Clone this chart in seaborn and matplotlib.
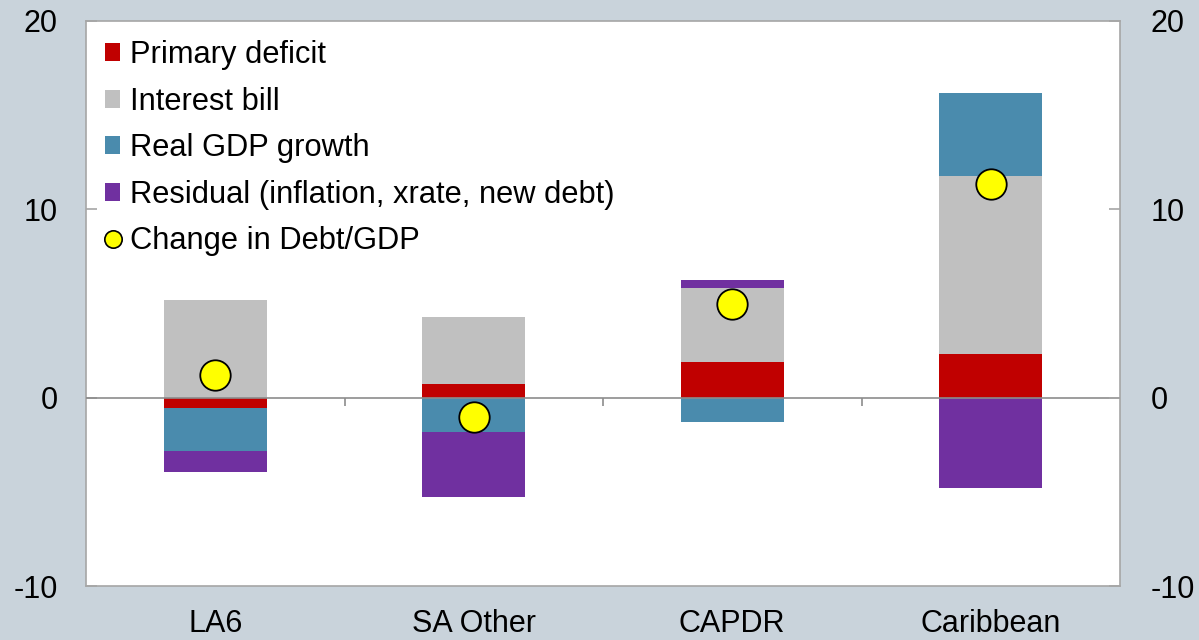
import numpy as np
import pandas as pd
import matplotlib
matplotlib.use("Agg")
import matplotlib.pyplot as plt
import seaborn as sns
from matplotlib.patches import Patch
from matplotlib.lines import Line2D

# Debt dynamics decomposition, % of GDP
regions = ["LA6", "SA Other", "CAPDR", "Caribbean"]
primary_deficit = [-0.55, 0.7, 1.9, 2.3]
interest_bill = [5.2, 3.6, 3.9, 9.45]
real_gdp_growth = [-2.3, -1.8, -1.3, 4.45]
residual = [-1.1, -3.45, 0.45, -4.8]
change_debt_gdp = [1.2, -1.0, 5.0, 11.35]
y_ticks = [-10, 0, 10, 20]

series_names = ["Primary deficit", "Interest bill", "Real GDP growth",
                "Residual (inflation, xrate, new debt)"]
series_values = [primary_deficit, interest_bill, real_gdp_growth, residual]
series_colors = ["#C00000", "#C0C0C0", "#4A8BAD", "#7030A0"]

bg = "#C9D3DB"
frame_col = "#A6A6A6"

sns.set_theme(style="white")
plt.rcParams["font.family"] = ["Liberation Sans", "DejaVu Sans"]
plt.rcParams["axes.unicode_minus"] = False
plt.rcParams["text.color"] = "black"
plt.rcParams["xtick.labelcolor"] = "black"
plt.rcParams["ytick.labelcolor"] = "black"

fig = plt.figure(figsize=(11.99, 6.40), dpi=100, facecolor=bg)
ax = fig.add_axes([86 / 1199, 54 / 640, 1034 / 1199, 565 / 640])
ax.set_facecolor("white")

x = np.arange(len(regions))
pos_base = np.zeros(len(regions))
neg_base = np.zeros(len(regions))
for name, vals, col in zip(series_names, series_values, series_colors):
    v = np.asarray(vals, dtype=float)
    bottom = np.where(v >= 0, pos_base, neg_base)
    ax.bar(x, v, width=0.4, bottom=bottom, color=col, edgecolor="none",
           zorder=2)
    pos_base = pos_base + np.where(v >= 0, v, 0)
    neg_base = neg_base + np.where(v < 0, v, 0)

# zero line with category separators below it
ax.axhline(0, color="#8C8C8C", lw=1.2, zorder=3)
seps = np.arange(1, len(regions)) - 0.5
ax.vlines(seps, -0.42, 0, color="#8C8C8C", lw=1.2, zorder=3)

pts = pd.DataFrame({"region": x, "change": change_debt_gdp})
sns.scatterplot(data=pts, x="region", y="change", ax=ax, color="#FFFF00",
                edgecolor="black", linewidth=1.3, s=480, zorder=4,
                legend=False)

ax.set_xlim(-0.5, len(regions) - 0.5)
ax.set_ylim(-10, 20)
ax.set_xticks(x)
ax.set_xticklabels(regions, fontsize=22)
ax.tick_params(axis="x", length=0, pad=16.5, labelcolor="black")
ax.set_yticks(y_ticks)
ax.tick_params(axis="y", direction="in", length=8, width=1.2,
               color=frame_col, labelsize=22, pad=20.5, labelcolor="black")
ax.set_xlabel("")
ax.set_ylabel("")
for sp in ax.spines.values():
    sp.set_visible(True)
    sp.set_color(frame_col)
    sp.set_linewidth(1.2)

ax2 = ax.twinx()
ax2.set_ylim(ax.get_ylim())
ax2.set_yticks(y_ticks)
ax2.tick_params(axis="y", direction="in", length=8, width=1.2,
                color=frame_col, labelsize=22, pad=21.8, labelcolor="black")
for sp in ax2.spines.values():
    sp.set_visible(False)

handles = [Patch(facecolor=c, edgecolor="none", label=n)
           for n, c in zip(series_names, series_colors)]
handles.append(Line2D([], [], marker="o", linestyle="none",
                      markerfacecolor="#FFFF00", markeredgecolor="black",
                      markeredgewidth=1.2, markersize=12.5,
                      label="Change in Debt/GDP"))
leg = ax.legend(handles=handles, loc="upper left",
                bbox_to_anchor=(0.002, 0.996), frameon=False, fontsize=22.2,
                handlelength=0.5, handleheight=0.5, handletextpad=0.3,
                labelspacing=0.535, borderaxespad=0.2, borderpad=0.35)
for t in leg.get_texts():
    t.set_color("black")

fig.savefig("out.png", dpi=100, facecolor=bg)
